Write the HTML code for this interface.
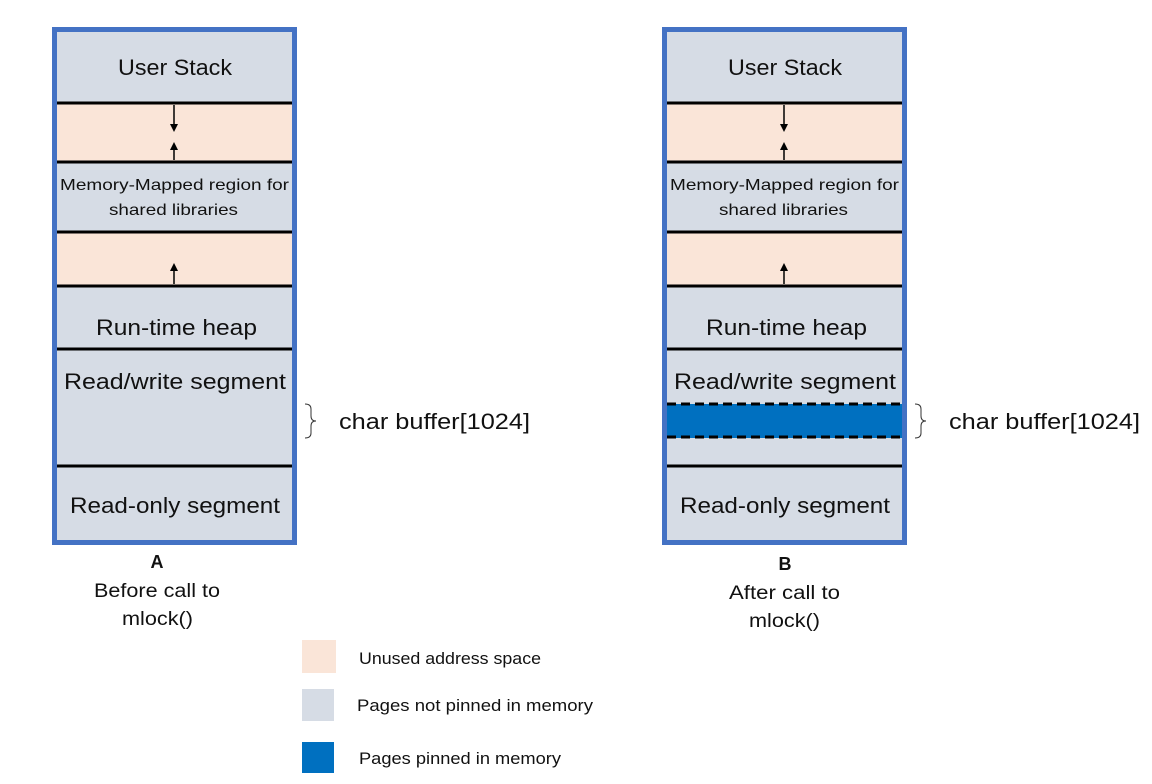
<!DOCTYPE html>
<html><head><meta charset="utf-8"><style>
html,body{margin:0;padding:0;background:#fff;width:1152px;height:784px;overflow:hidden}
text{font-family:"Liberation Sans",sans-serif;fill:#111}
</style></head><body>
<svg width="1152" height="784" viewBox="0 0 1152 784" xmlns="http://www.w3.org/2000/svg">
<defs>
<marker id="ah" markerWidth="8" markerHeight="8" refX="4" refY="4" orient="auto" markerUnits="userSpaceOnUse"><path d="M0,0 L8,4 L0,8 z" fill="#000"/></marker>
<g id="stack">
  <rect x="0" y="0" width="245" height="518" fill="#d6dce5"/>
  <rect x="5" y="76" width="235" height="59" fill="#fae5d8"/>
  <rect x="5" y="205" width="235" height="54" fill="#fae5d8"/>
  <rect x="2.5" y="2.5" width="240" height="513" fill="none" stroke="#4472c4" stroke-width="5"/>
  <g stroke="#000" stroke-width="3">
    <line x1="5" y1="76" x2="240" y2="76"/>
    <line x1="5" y1="135" x2="240" y2="135"/>
    <line x1="5" y1="205" x2="240" y2="205"/>
    <line x1="5" y1="259" x2="240" y2="259"/>
    <line x1="5" y1="322" x2="240" y2="322"/>
    <line x1="5" y1="439" x2="240" y2="439"/>
  </g>
  <g stroke="#000" stroke-width="1.5">
    <line x1="122" y1="78" x2="122" y2="101" marker-end="url(#ah)"/>
    <line x1="122" y1="133" x2="122" y2="119" marker-end="url(#ah)"/>
    <line x1="122" y1="257" x2="122" y2="240" marker-end="url(#ah)"/>
  </g>
  <text x="66" y="48" font-size="22" textLength="114" lengthAdjust="spacingAndGlyphs">User Stack</text>
  <text x="8" y="163" font-size="16" textLength="229" lengthAdjust="spacingAndGlyphs">Memory-Mapped region for</text>
  <text x="57" y="188" font-size="16" textLength="129" lengthAdjust="spacingAndGlyphs">shared libraries</text>
  <text x="44" y="308" font-size="22" textLength="161" lengthAdjust="spacingAndGlyphs">Run-time heap</text>
  <text x="12" y="362" font-size="22" textLength="222" lengthAdjust="spacingAndGlyphs">Read/write segment</text>
  <text x="18" y="486" font-size="22" textLength="210" lengthAdjust="spacingAndGlyphs">Read-only segment</text>
</g>
</defs>
<use href="#stack" x="52" y="27"/>
<use href="#stack" x="662" y="27"/>
<rect x="667" y="404" width="235" height="34" fill="#0070c0"/>
<g stroke="#000" stroke-width="3" stroke-dasharray="9,5">
  <line x1="667" y1="404" x2="902" y2="404"/>
  <line x1="667" y1="437" x2="902" y2="437"/>
</g>
<path d="M305,404 Q311,404 311,409 L311,416 Q311,421 316,421 Q311,421 311,426 L311,433 Q311,438 305,438" fill="none" stroke="#333" stroke-width="1"/>
<path d="M915,404 Q921,404 921,409 L921,416 Q921,421 926,421 Q921,421 921,426 L921,433 Q921,438 915,438" fill="none" stroke="#333" stroke-width="1"/>
<text x="339" y="429" font-size="22" textLength="191" lengthAdjust="spacingAndGlyphs">char buffer[1024]</text>
<text x="949" y="429" font-size="22" textLength="191" lengthAdjust="spacingAndGlyphs">char buffer[1024]</text>
<text x="157" y="568" font-size="18" font-weight="bold" text-anchor="middle">A</text>
<text x="94" y="597" font-size="19" textLength="126" lengthAdjust="spacingAndGlyphs">Before call to</text>
<text x="122" y="625" font-size="19" textLength="71" lengthAdjust="spacingAndGlyphs">mlock()</text>
<text x="785" y="570" font-size="18" font-weight="bold" text-anchor="middle">B</text>
<text x="729" y="599" font-size="19" textLength="111" lengthAdjust="spacingAndGlyphs">After call to</text>
<text x="749" y="627" font-size="19" textLength="71" lengthAdjust="spacingAndGlyphs">mlock()</text>
<rect x="302" y="640" width="34" height="33" fill="#fae5d8"/>
<rect x="302" y="689" width="32" height="32" fill="#d6dce5"/>
<rect x="302" y="742" width="32" height="31" fill="#0070c0"/>
<text x="359" y="664" font-size="17" textLength="182" lengthAdjust="spacingAndGlyphs">Unused address space</text>
<text x="357" y="711" font-size="17" textLength="236" lengthAdjust="spacingAndGlyphs">Pages not pinned in memory</text>
<text x="359" y="764" font-size="17" textLength="202" lengthAdjust="spacingAndGlyphs">Pages pinned in memory</text>
</svg>
</body></html>
